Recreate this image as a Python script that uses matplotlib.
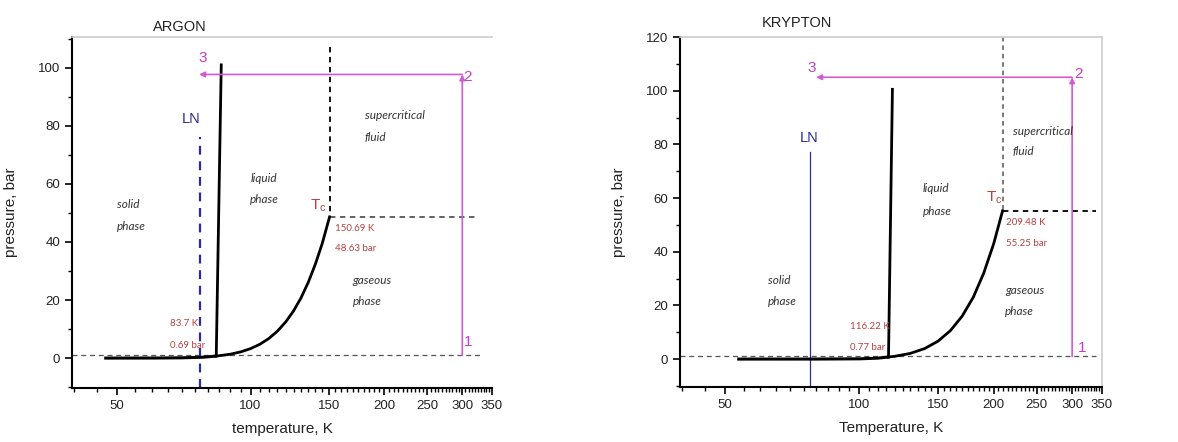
import numpy as np
import matplotlib
matplotlib.use("Agg")
import matplotlib.pyplot as plt
from matplotlib.ticker import FixedLocator, MultipleLocator, NullFormatter

plt.rcParams['font.family'] = ['Liberation Sans', 'DejaVu Sans']

# --- data ---
# argon
ar_sub_T = [46.8, 60, 70, 78, 83.7]
ar_sub_p = [0.0, 0.02, 0.1, 0.3, 0.69]
ar_melt_T = [83.7, 85.9]
ar_melt_p = [0.69, 101.0]
ar_vap_T = [83.7, 90, 95, 100, 105, 110, 115, 120, 125, 130, 135, 140, 145, 150.69]
ar_vap_p = [0.69, 1.33, 2.14, 3.26, 4.78, 6.77, 9.30, 12.45, 16.26, 20.8, 26.2, 32.4, 39.4, 48.63]
ar_tc = (150.69, 48.63)
ar_ln = 77.0
ar_path_T = [300, 300, 76.6]
ar_path_p = [1.0, 97.7, 97.7]

# krypton
kr_sub_T = [53.2, 80, 100, 110, 116.22]
kr_sub_p = [0.0, 0.01, 0.1, 0.35, 0.77]
kr_melt_T = [116.22, 118.6]
kr_melt_p = [0.77, 100.5]
kr_vap_T = [116.22, 120, 130, 140, 150, 160, 170, 180, 190, 200, 209.48]
kr_vap_p = [0.77, 1.03, 2.11, 3.90, 6.65, 10.6, 16.0, 23.0, 32.0, 42.9, 55.25]
kr_tc = (209.48, 55.25)
kr_ln = 77.3
kr_path_T = [300, 300, 80.0]
kr_path_p = [1.0, 105.0, 105.0]

xticks = [50, 100, 150, 200, 250, 300, 350]
xminor = list(range(40, 350, 5))

MAG = '#d25ad2'
MAGT = '#c43cc4'
RED = '#b84040'
BLUE = '#2b2b9c'
phase_font = dict(family='Lato', style='italic', fontsize=8.5, color='#333333')
red_font = dict(family='Lato', fontsize=7, color=RED)

fig = plt.figure(figsize=(11.78, 4.42), dpi=100)
ax1 = fig.add_axes([72/1178, 54/442, 420/1178, 351/442])
ax2 = fig.add_axes([680/1178, 55/442, 422/1178, 350/442])


def style_axes(ax, ylim, ymax_tick, frame_right):
    ax.set_xscale('log')
    ax.set_xlim(39.6, 350)
    ax.set_ylim(*ylim)
    ax.xaxis.set_major_locator(FixedLocator(xticks))
    ax.xaxis.set_minor_locator(FixedLocator(xminor))
    ax.xaxis.set_minor_formatter(NullFormatter())
    ax.set_xticklabels([str(t) for t in xticks])
    ax.yaxis.set_major_locator(FixedLocator(list(range(0, ymax_tick + 1, 20))))
    ax.yaxis.set_minor_locator(MultipleLocator(10))
    ax.tick_params(which='major', direction='out', length=5, width=1.2, labelsize=9.5,
                   colors='black', labelcolor='#222222')
    ax.tick_params(which='minor', direction='out', length=3, width=1.0)
    for s in ('left', 'bottom'):
        ax.spines[s].set_linewidth(1.5)
    ax.spines['top'].set_color('#cccccc')
    ax.spines['top'].set_linewidth(1.2)
    if frame_right:
        ax.spines['right'].set_color('#cccccc')
        ax.spines['right'].set_linewidth(1.2)
    else:
        ax.spines['right'].set_visible(False)
    ax.set_ylabel('pressure, bar', fontsize=11, color='#222222')
    ax.yaxis.set_label_coords(-0.128, 0.5)


def path_arrows(ax, T, p):
    arrow = dict(arrowstyle='-|>', color=MAG, lw=1.2, mutation_scale=8,
                 shrinkA=0, shrinkB=0)
    ax.annotate('', xy=(T[1], p[1]), xytext=(T[0], p[0]), arrowprops=arrow)
    ax.annotate('', xy=(T[2], p[2]), xytext=(T[1], p[1]), arrowprops=arrow)


# ---------------- ARGON ----------------
style_axes(ax1, (-10.3, 110.6), 100, frame_right=False)
ax1.set_xlabel('temperature, K', fontsize=11, color='#222222', labelpad=7)

ax1.plot([39.6, 333], [1.0, 1.0], ls=(0, (4, 3)), color='#555555', lw=0.9)
ax1.plot([ar_tc[0], ar_tc[0]], [107, ar_tc[1]], ls=(0, (3, 2.5)), color='black', lw=1.3)
ax1.plot([ar_tc[0], 325], [ar_tc[1], ar_tc[1]], ls=(0, (3, 2.5)), color='#555555', lw=1.3)
ax1.plot([ar_ln, ar_ln], [-10.3, 76], ls=(0, (4, 3)), color=BLUE, lw=1.6)

ax1.plot(ar_sub_T, ar_sub_p, color='black', lw=2.2, solid_capstyle='butt')
ax1.plot(ar_melt_T, ar_melt_p, color='black', lw=2.0)
ax1.plot(ar_vap_T, ar_vap_p, color='black', lw=2.0)
path_arrows(ax1, ar_path_T, ar_path_p)

ax1.text(73.4, 82.4, 'LN', color=BLUE, fontsize=10.5, ha='center', va='center')
ax1.text(77.9, 103.5, '3', color=MAGT, fontsize=11, ha='center', va='center')
ax1.text(302, 96.7, '2', color=MAGT, fontsize=11, ha='left', va='center')
ax1.text(302, 5.6, '1', color=MAGT, fontsize=11, ha='left', va='center')
ax1.text(136.3, 52.6, r'T$_{\mathregular{c}}$', color=RED, fontsize=11, ha='left', va='center')
ax1.text(155, 44.6, '150.69 K', ha='left', va='center', **red_font)
ax1.text(155, 37.7, '48.63 bar', ha='left', va='center', **red_font)
ax1.text(65.8, 11.9, '83.7 K', ha='left', va='center', **red_font)
ax1.text(65.8, 4.5, '0.69 bar', ha='left', va='center', **red_font)

ax1.text(50, 53, 'solid', ha='left', va='center', **phase_font)
ax1.text(50, 45.5, 'phase', ha='left', va='center', **phase_font)
ax1.text(99.8, 62, 'liquid', ha='left', va='center', **phase_font)
ax1.text(99.8, 54.5, 'phase', ha='left', va='center', **phase_font)
ax1.text(181, 83.5, 'supercritical', ha='left', va='center', **phase_font)
ax1.text(181, 76, 'fluid', ha='left', va='center', **phase_font)
ax1.text(170, 26.8, 'gaseous', ha='left', va='center', **phase_font)
ax1.text(170, 19.6, 'phase', ha='left', va='center', **phase_font)

# ---------------- KRYPTON ----------------
style_axes(ax2, (-10.4, 120), 120, frame_right=True)
ax2.set_xlabel('Temperature, K', fontsize=11, color='#222222', labelpad=7)

ax2.plot([39.6, 340], [1.0, 1.0], ls=(0, (4, 3)), color='#555555', lw=0.9)
ax2.plot([kr_tc[0], kr_tc[0]], [120, kr_tc[1]], ls=(0, (3, 2.5)), color='#555555', lw=1.1)
ax2.plot([kr_tc[0], 340], [kr_tc[1], kr_tc[1]], ls=(0, (3, 2.5)), color='black', lw=1.3)
ax2.plot([kr_ln, kr_ln], [-10.4, 77], color=BLUE, lw=0.9)

ax2.plot(kr_sub_T, kr_sub_p, color='black', lw=2.2, solid_capstyle='butt')
ax2.plot(kr_melt_T, kr_melt_p, color='black', lw=2.0)
ax2.plot(kr_vap_T, kr_vap_p, color='black', lw=2.0)
path_arrows(ax2, kr_path_T, kr_path_p)

ax2.text(77.3, 82.2, 'LN', color=BLUE, fontsize=10.5, ha='center', va='center')
ax2.text(78.2, 108.4, '3', color=MAGT, fontsize=11, ha='center', va='center')
ax2.text(304, 106.2, '2', color=MAGT, fontsize=11, ha='left', va='center')
ax2.text(309, 4, '1', color=MAGT, fontsize=11, ha='left', va='center')
ax2.text(192, 60, r'T$_{\mathregular{c}}$', color=RED, fontsize=11, ha='left', va='center')
ax2.text(213, 50.8, '209.48 K', ha='left', va='center', **red_font)
ax2.text(213, 43, '55.25 bar', ha='left', va='center', **red_font)
ax2.text(95.3, 12.1, '116.22 K', ha='left', va='center', **red_font)
ax2.text(95.3, 4.2, '0.77 bar', ha='left', va='center', **red_font)

ax2.text(62.3, 29.2, 'solid', ha='left', va='center', **phase_font)
ax2.text(62.3, 21.4, 'phase', ha='left', va='center', **phase_font)
ax2.text(138.7, 63.4, 'liquid', ha='left', va='center', **phase_font)
ax2.text(138.7, 55, 'phase', ha='left', va='center', **phase_font)
ax2.text(220.6, 84.7, 'supercritical', ha='left', va='center', **phase_font)
ax2.text(220.6, 77.3, 'fluid', ha='left', va='center', **phase_font)
ax2.text(212, 25.7, 'gaseous', ha='left', va='center', **phase_font)
ax2.text(212, 17.6, 'phase', ha='left', va='center', **phase_font)

fig.text(153/1178, 1 - 27/442, 'ARGON', fontsize=10.5, ha='left', va='center', color='#222222')
fig.text(762/1178, 1 - 23/442, 'KRYPTON', fontsize=10.5, ha='left', va='center', color='#222222')

fig.savefig('out.png', dpi=100)
